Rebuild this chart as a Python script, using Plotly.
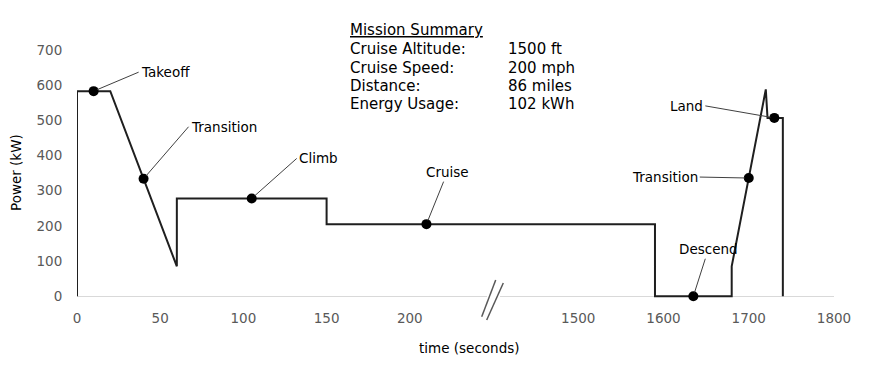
import plotly.graph_objects as go

# ---- data ----
early_time = [0, 0, 20, 60, 60, 150, 150, 250]
early_power = [0, 583, 583, 85, 278, 278, 205, 205]
late_time = [1400, 1590, 1590, 1680, 1680, 1720, 1722, 1740, 1740]
late_power = [205, 205, 0, 0, 85, 588, 507, 507, 0]

early_marker_time = [10, 40, 105, 210]
early_marker_power = [583, 334, 278, 205]
early_marker_labels = ["Takeoff", "Transition", "Climb", "Cruise"]
late_marker_time = [1635, 1700, 1730]
late_marker_power = [0, 336, 507]
late_marker_labels = ["Descend", "Transition", "Land"]

left_ticks = [0, 50, 100, 150, 200]
right_ticks = [1500, 1600, 1700, 1800]
y_ticks = [0, 100, 200, 300, 400, 500, 600, 700]

summary_title = "Mission Summary"
summary_keys = ["Cruise Altitude:", "Cruise Speed:", "Distance:", "Energy Usage:"]
summary_values = ["1500 ft", "200 mph", "86 miles", "102 kWh"]

FONT = "DejaVu Sans"
LINE = "#1f1f1f"
OFF = 8  # page body margin
W, H = 878 - OFF, 372 - OFF
# plot area in window pixels: left 77, right 834, top 50, bottom 298
PL, PR, PT, PB = 77, 834, 50, 298
ML, MR, MT, MB = PL - OFF, W - (PR - OFF), PT - OFF, H - (PB - OFF)
PW = PR - PL
PH = PB - PT
split = 416 / PW


def px_x(p):
    return (p - PL) / PW


def px_y(p):
    return (PB - p) / PH


fig = go.Figure()
fig.add_trace(go.Scatter(x=early_time, y=early_power, mode="lines",
                         line=dict(color=LINE, width=2), xaxis="x", yaxis="y",
                         hoverinfo="skip"))
fig.add_trace(go.Scatter(x=late_time, y=late_power, mode="lines",
                         line=dict(color=LINE, width=2), xaxis="x2", yaxis="y",
                         hoverinfo="skip"))
fig.add_trace(go.Scatter(x=early_marker_time, y=early_marker_power, mode="markers",
                         marker=dict(color="black", size=10), xaxis="x", yaxis="y",
                         cliponaxis=False))
fig.add_trace(go.Scatter(x=late_marker_time, y=late_marker_power, mode="markers",
                         marker=dict(color="black", size=10), xaxis="x2", yaxis="y",
                         cliponaxis=False))

# label offsets (styling): (ax, ay, xanchor)
early_offsets = [(45, -19, "left"), (45, -52, "left"), (45, -40, "left"), (21, -52, "center")]
late_offsets = [(15, -47, "center"), (-49, -1, "right"), (-69, -12, "right")]

annotations = []
for t, p, lab, (ax, ay, xa) in zip(early_marker_time, early_marker_power, early_marker_labels, early_offsets):
    annotations.append(dict(x=t, y=p, xref="x", yref="y", text=lab, showarrow=True,
                            arrowhead=0, arrowwidth=1, arrowcolor="#404040", ax=ax, ay=ay,
                            xanchor=xa, yanchor="middle", standoff=4,
                            font=dict(family=FONT, size=13.5, color="black")))
for t, p, lab, (ax, ay, xa) in zip(late_marker_time, late_marker_power, late_marker_labels, late_offsets):
    annotations.append(dict(x=t, y=p, xref="x2", yref="y", text=lab, showarrow=True,
                            arrowhead=0, arrowwidth=1, arrowcolor="#404040", ax=ax, ay=ay,
                            xanchor=xa, yanchor="middle", standoff=4,
                            font=dict(family=FONT, size=13.5, color="black")))

# mission summary
row_px = [30, 49, 68, 86, 104]
annotations.append(dict(x=px_x(348), y=px_y(row_px[0]), xref="paper", yref="paper",
                        text="<u>" + summary_title + "</u>", showarrow=False,
                        xanchor="left", yanchor="middle",
                        font=dict(family=FONT, size=15, color="black")))
for i, (k, v) in enumerate(zip(summary_keys, summary_values)):
    annotations.append(dict(x=px_x(348), y=px_y(row_px[i + 1]), xref="paper", yref="paper",
                            text=k, showarrow=False, xanchor="left", yanchor="middle",
                            font=dict(family=FONT, size=15, color="black")))
    annotations.append(dict(x=px_x(506), y=px_y(row_px[i + 1]), xref="paper", yref="paper",
                            text=v, showarrow=False, xanchor="left", yanchor="middle",
                            font=dict(family=FONT, size=15, color="black")))

# axis titles
annotations.append(dict(x=px_x(469), y=px_y(348), xref="paper", yref="paper",
                        text="time (seconds)", showarrow=False, xanchor="center", yanchor="middle",
                        font=dict(family=FONT, size=13.5, color="black")))
annotations.append(dict(x=px_x(16), y=px_y(173), xref="paper", yref="paper",
                        text="Power (kW)", showarrow=False, textangle=-90,
                        xanchor="center", yanchor="middle",
                        font=dict(family=FONT, size=13.5, color="black")))

shapes = [
    dict(type="line", xref="paper", yref="paper", x0=px_x(487), x1=px_x(500),
         y0=px_y(296), y1=px_y(296), line=dict(color="white", width=3)),
    dict(type="line", xref="paper", yref="paper", x0=px_x(495.7), y0=px_y(280),
         x1=px_x(481.7), y1=px_y(316.7), line=dict(color="#595959", width=1.5)),
    dict(type="line", xref="paper", yref="paper", x0=px_x(503.3), y0=px_y(283),
         x1=px_x(486.7), y1=px_y(320), line=dict(color="#595959", width=1.5)),
]

tickfont = dict(family=FONT, size=13.5, color="#595959")
fig.update_layout(
    width=W, height=H,
    margin=dict(l=ML, r=MR, t=MT, b=MB, pad=0),
    paper_bgcolor="white", plot_bgcolor="white",
    showlegend=False,
    xaxis=dict(domain=[0, split], range=[0, 250], tickvals=left_ticks,
               showgrid=False, zeroline=False, showline=False,
               ticks="outside", ticklen=8, tickcolor="rgba(0,0,0,0)",
               tickfont=tickfont, anchor="y"),
    xaxis2=dict(domain=[split, 1], range=[1400, 1800], tickvals=right_ticks,
                showgrid=False, zeroline=False, showline=False,
                ticks="outside", ticklen=8, tickcolor="rgba(0,0,0,0)",
                tickfont=tickfont, anchor="y"),
    yaxis=dict(range=[-5, 700], tickvals=y_ticks, showgrid=False,
               zeroline=True, zerolinecolor="#d9d9d9", zerolinewidth=1,
               showline=False, ticks="outside", ticklen=11,
               tickcolor="rgba(0,0,0,0)", tickfont=tickfont),
    annotations=annotations,
    shapes=shapes,
)

fig.write_html("out.html")
